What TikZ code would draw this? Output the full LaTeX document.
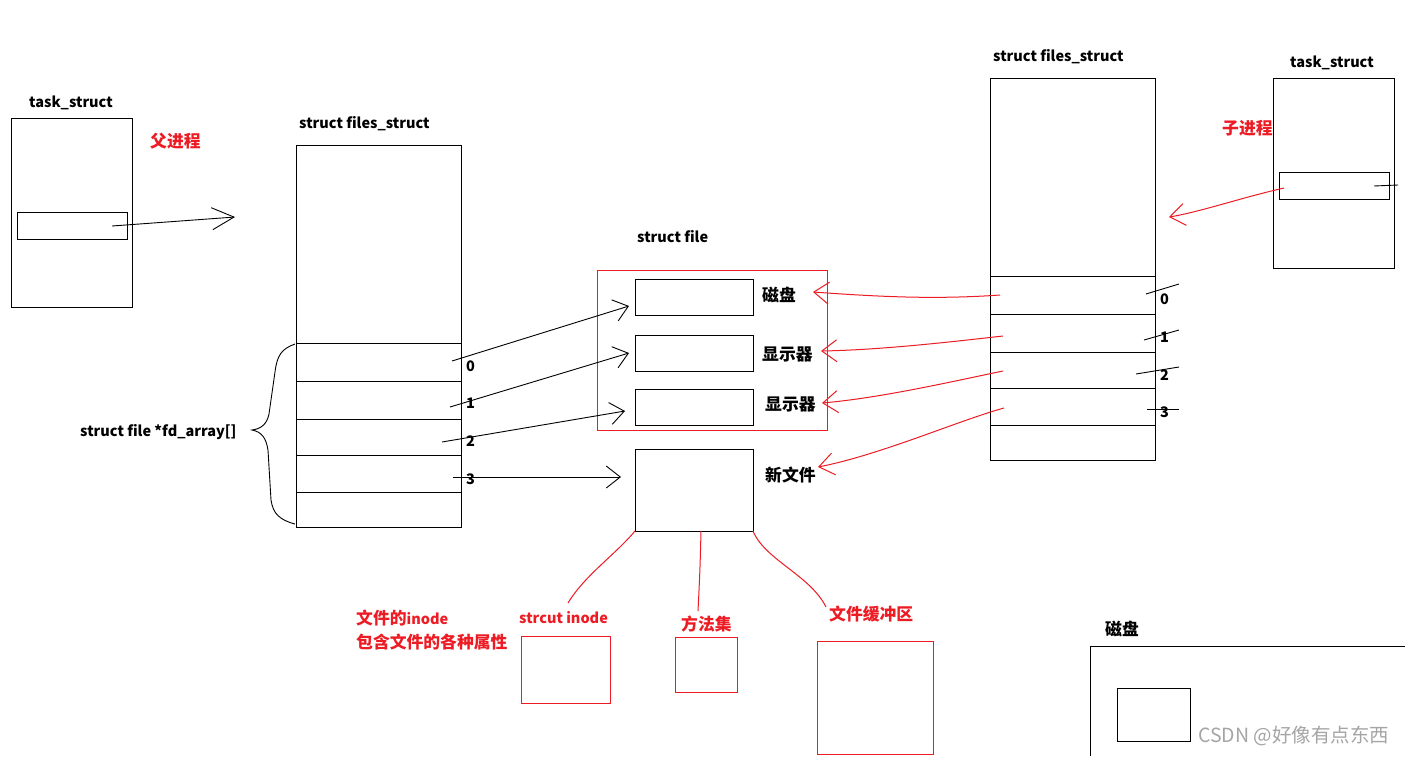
\documentclass[tikz,border=0pt]{standalone}
\usepackage{fontspec}
\setmainfont{Noto Sans CJK SC}
\usetikzlibrary{arrows.meta,fit}
\definecolor{pred}{RGB}{237,28,36}
\definecolor{wmgray}{RGB}{165,165,165}
\newcommand\latsz{\fontsize{14.5}{17}\selectfont}
\newcommand\hansz{\fontsize{16.8}{19}\selectfont}
\tikzset{
  bx/.style={draw=black, line width=1pt, inner sep=0pt, outer sep=0pt},
  rbx/.style={draw=pred, line width=1pt, inner sep=0pt, outer sep=0pt},
  lab/.style={font=\latsz\bfseries, inner sep=0pt, anchor=west, text=black},
  hlab/.style={font=\hansz\bfseries, inner sep=0pt, anchor=west, text=black},
  rlab/.style={lab, text=pred},
  rhlab/.style={hlab, text=pred},
  barrow/.style={draw=black, line width=0.9pt, -{Straight Barb[length=14pt,width=22pt,line width=0.9pt]}},
  bigarrow/.style={draw=black, line width=0.9pt, -{Straight Barb[length=22pt,width=22pt,line width=0.9pt]}},
  rarrow/.style={draw=pred, line width=1pt, -{Straight Barb[length=15pt,width=22pt,line width=1pt]}},
  rline/.style={draw=pred, line width=1pt},
  tick/.style={draw=black, line width=0.9pt},
}
\begin{document}
\begin{tikzpicture}[x=1pt,y=-1pt]
\useasboundingbox[fill=white] (0,0) rectangle (1405,756);

% ---------- left task_struct (parent) ----------
\node[lab] (ltasklab) at (29,103) {task\_struct};
\node[bx, fit={(11,118) (132,307)}] (ltask) {};
\node[bx, fit={(17,212) (127,239)}] (ltaskin) {};
\node[rhlab] (parentlab) at (150,141) {父进程};
\coordinate (lptrs) at (112,226);
\coordinate (lptre) at (235,217);
\draw[bigarrow] (lptrs) -- (lptre);

% ---------- left files_struct ----------
\node[lab] (lfslab) at (299,124) {struct files\_struct};
\node[bx, fit={(296,145) (461,343)}] (lfstop) {};
\node[bx, fit={(296,343) (461,381)}] (lfs0) {};
\node[bx, fit={(296,381) (461,419)}] (lfs1) {};
\node[bx, fit={(296,419) (461,455)}] (lfs2) {};
\node[bx, fit={(296,455) (461,492)}] (lfs3) {};
\node[bx, fit={(296,492) (461,527)}] (lfs4) {};
\node[lab] (ln0) at (466,366) {0};
\node[lab] (ln1) at (466,403) {1};
\node[lab] (ln2) at (466,441) {2};
\node[lab] (ln3) at (466,479) {3};

% brace + label
\draw[line width=0.9pt] (295,344) .. controls (281,349) and (277,356) .. (275,372)
  -- (269,414) .. controls (267,424) and (261,429) .. (252,430)
  .. controls (262,432) and (266,438) .. (268,450)
  -- (271,500) .. controls (273,514) and (280,520) .. (295,524);
\node[lab] (fdlab) at (80,432) {struct file *fd\_array[]};

% ---------- struct file ----------
\node[lab] (sflab) at (637,237) {struct file};
\node[rbx, fit={(597,270) (827,430)}] (sfbox) {};
\node[bx, fit={(635,279) (753,315)}] (f0) {};
\node[bx, fit={(635,335) (753,371)}] (f1) {};
\node[bx, fit={(635,389) (753,425)}] (f2) {};
\node[bx, fit={(635,449) (753,531)}] (f3) {};
\node[hlab] (f0lab) at (762,295) {磁盘};
\node[hlab] (f1lab) at (762,354) {显示器};
\node[hlab] (f2lab) at (765,404) {显示器};
\node[hlab] (f3lab) at (765,475) {新文件};

% black arrows fd -> file
\coordinate (a0s) at (452,361); \coordinate (a0e) at (629,306);
\coordinate (a1s) at (450,407); \coordinate (a1e) at (629,353);
\coordinate (a2s) at (442,442); \coordinate (a2e) at (625,411);
\coordinate (a3s) at (453,477); \coordinate (a3e) at (621,477);
\draw[barrow] (a0s) -- (a0e);
\draw[barrow] (a1s) -- (a1e);
\draw[barrow] (a2s) -- (a2e);
\draw[barrow] (a3s) -- (a3e);

% ---------- right files_struct ----------
\node[lab] (rfslab) at (993,57) {struct files\_struct};
\node[bx, fit={(990,78) (1155,276)}] (rfstop) {};
\node[bx, fit={(990,276) (1155,314)}] (rfs0) {};
\node[bx, fit={(990,314) (1155,352)}] (rfs1) {};
\node[bx, fit={(990,352) (1155,388)}] (rfs2) {};
\node[bx, fit={(990,388) (1155,425)}] (rfs3) {};
\node[bx, fit={(990,425) (1155,460)}] (rfs4) {};
\node[lab] (rn0) at (1160,299) {0};
\node[lab] (rn1) at (1160,337) {1};
\node[lab] (rn2) at (1160,375) {2};
\node[lab] (rn3) at (1160,412) {3};
\coordinate (t0a) at (1146,294); \coordinate (t0b) at (1179,284);
\coordinate (t1a) at (1144,340); \coordinate (t1b) at (1179,330);
\coordinate (t2a) at (1136,374); \coordinate (t2b) at (1179,367);
\coordinate (t3a) at (1147,409); \coordinate (t3b) at (1179,409);
\draw[tick] (t0a) -- (t0b);
\draw[tick] (t1a) -- (t1b);
\draw[tick] (t2a) -- (t2b);
\draw[tick] (t3a) -- (t3b);

% ---------- right task_struct (child) ----------
\node[lab] (rtasklab) at (1290,63) {task\_struct};
\node[bx, fit={(1273,78) (1394,268)}] (rtask) {};
\node[bx, fit={(1279,172) (1389,199)}] (rtaskin) {};
\node[rhlab] (childlab) at (1222,128) {子进程};
\coordinate (rtka) at (1374,186); \coordinate (rtkb) at (1398,185);
\draw[tick] (rtka) -- (rtkb);
\coordinate (cps) at (1284,188); \coordinate (cpe) at (1169,217);
\draw[rarrow] (cps) .. controls (1240,198) and (1200,212) .. (cpe);

% red arrows child fd -> files
\coordinate (r0s) at (1000,295); \coordinate (r0e) at (813,292);
\coordinate (r1s) at (1003,336); \coordinate (r1e) at (821,351);
\coordinate (r2s) at (1003,371); \coordinate (r2e) at (822,403);
\coordinate (r3s) at (1004,408); \coordinate (r3e) at (818,467);
\draw[rarrow] (r0s) .. controls (930,300) and (870,296) .. (r0e);
\draw[rarrow] (r1s) .. controls (950,342) and (880,350) .. (r1e);
\draw[rarrow] (r2s) .. controls (950,382) and (880,398) .. (r2e);
\draw[rarrow] (r3s) .. controls (960,420) and (880,455) .. (r3e);

% ---------- inode parts ----------
\node[rhlab] (inodelab1) at (356,618) {文件的{\latsz inode}};
\node[rhlab] (inodelab2) at (356,642) {包含文件的各种属性};
\node[rlab] (inodelab) at (519,618) {strcut inode};
\node[rhlab] (methlab) at (681,624) {方法集};
\node[rhlab] (buflab) at (829,614) {文件缓冲区};
\node[rbx, fit={(521,636) (610,703)}] (inodebox) {};
\node[rbx, fit={(675,637) (737,692)}] (methbox) {};
\node[rbx, fit={(817,641) (933,754)}] (bufbox) {};
\coordinate (b0e) at (568,603);
\coordinate (b1e) at (698,611);
\coordinate (b2e) at (826,607);
\draw[rline] (f3.south west) .. controls (615,555) and (585,575) .. (b0e);
\draw[rline] (701,531) .. controls (700,570) .. (b1e);
\draw[rline] (f3.south east) .. controls (765,560) and (810,575) .. (b2e);

% ---------- disk ----------
\node[hlab] (disklab) at (1105,629) {磁盘};
\coordinate (dbl) at (1090,756);
\coordinate (dtl) at (1090,646);
\coordinate (dtr) at (1405,646);
\draw[line width=1pt] (dbl) -- (dtl) -- (dtr);
\node[bx, fit={(1117,688) (1190,741)}] (diskin) {};

% watermark
\node[font=\fontsize{19.5}{22}\selectfont, text=wmgray, inner sep=0pt, anchor=west] (wm) at (1198,736) {CSDN @好像有点东西};
\end{tikzpicture}
\end{document}
